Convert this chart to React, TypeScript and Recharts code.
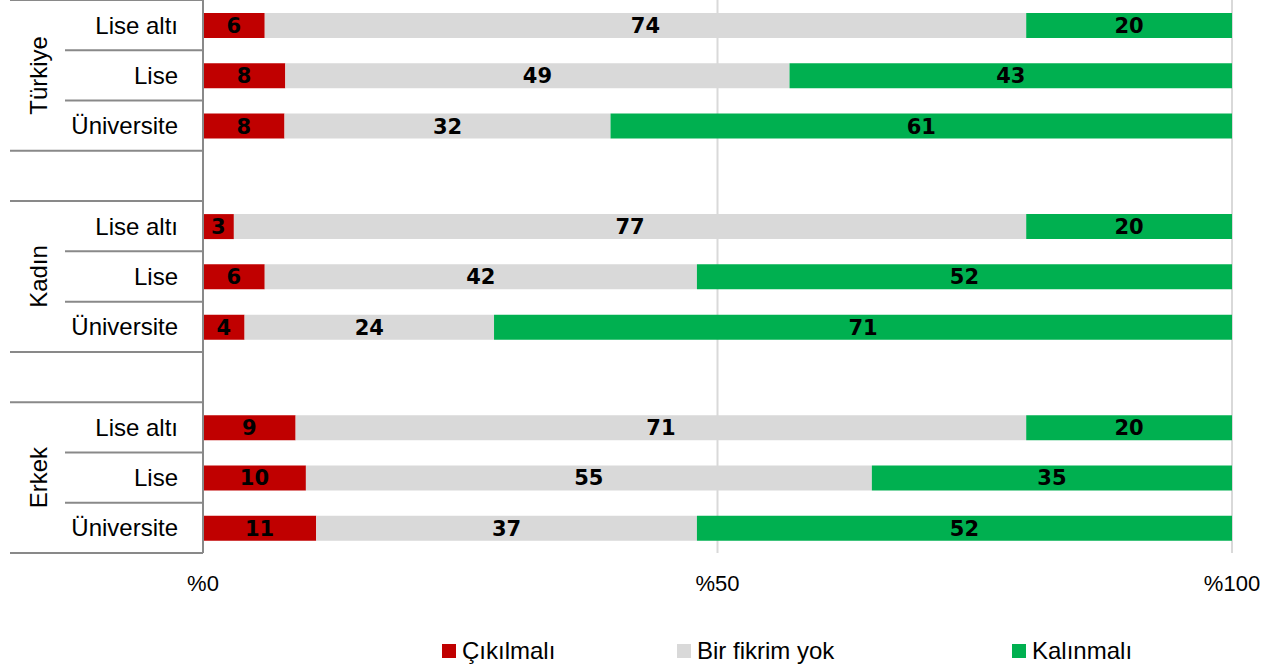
import React from 'react'
import {
  Bar,
  BarChart,
  CartesianGrid,
  LabelList,
  Legend,
  XAxis,
  YAxis,
} from 'recharts'

const rowKeys = ['t-la', 't-l', 't-u', 'gap1', 'k-la', 'k-l', 'k-u', 'gap2', 'e-la', 'e-l', 'e-u']
const rowLabels = ['Lise altı', 'Lise', 'Üniversite', '', 'Lise altı', 'Lise', 'Üniversite', '', 'Lise altı', 'Lise', 'Üniversite']
const groupLabels: Record<number, string> = { 1: 'Türkiye', 5: 'Kadın', 9: 'Erkek' }
// rows whose bottom separator spans both label columns
const fullLineRows = [2, 3, 6, 7, 10]

const cikilmali = [6, 8, 8, null, 3, 6, 4, null, 9, 10, 11]
const fikirYok = [74, 49, 32, null, 77, 42, 24, null, 71, 55, 37]
const kalinmali = [20, 43, 61, null, 20, 52, 71, null, 20, 35, 52]

const xTicks = [0, 0.5, 1]

const series = [
  { key: 'cik', name: 'Çıkılmalı', color: '#C00000' },
  { key: 'yok', name: 'Bir fikrim yok', color: '#D9D9D9' },
  { key: 'kal', name: 'Kalınmalı', color: '#00B050' },
]

const data = rowKeys.map((key, i) => ({
  key,
  cik: cikilmali[i],
  yok: fikirYok[i],
  kal: kalinmali[i],
}))

const WIDTH = 1281
const HEIGHT = 670
const PLOT_H = 553
const BAND = PLOT_H / rowKeys.length
const AXIS_W = 203
const LINE = '#898989'
const FONT = '"Liberation Sans", Arial, sans-serif'

const CategoryTick = (props: any) => {
  const { y, payload } = props
  const i = rowKeys.indexOf(payload.value)
  const full = fullLineRows.includes(i)
  const group = groupLabels[i]
  return (
    <g>
      {i === 0 && (
        <line x1={10} x2={AXIS_W} y1={y - BAND / 2} y2={y - BAND / 2} stroke={LINE} strokeWidth={2} />
      )}
      <line x1={full ? 10 : 65} x2={AXIS_W} y1={y + BAND / 2} y2={y + BAND / 2} stroke={LINE} strokeWidth={2} />
      <text x={178} y={y} textAnchor="end" dominantBaseline="central" fontSize={24} fill="#000" fontFamily={FONT}>
        {rowLabels[i]}
      </text>
      {group && (
        <text
          transform={`translate(38, ${y}) rotate(-90)`}
          textAnchor="middle"
          dominantBaseline="central"
          fontSize={24}
          fill="#000"
          fontFamily={FONT}
        >
          {group}
        </text>
      )}
    </g>
  )
}

const LegendContent = () => (
  <div style={{ display: 'flex', alignItems: 'center', height: 45, paddingTop: 6, boxSizing: 'border-box', paddingLeft: 442, fontFamily: FONT, fontSize: 24, color: '#000' }}>
    {series.map((s, i) => (
      <div key={s.key} style={{ display: 'flex', alignItems: 'center', width: i === 0 ? 235 : i === 1 ? 335 : 'auto' }}>
        <span style={{ width: 14, height: 14, background: s.color, marginRight: 6, display: 'inline-block' }} />
        <span>{s.name}</span>
      </div>
    ))}
  </div>
)

const App = () => {
  return (
    <div style={{ position: 'absolute', left: 0, top: 0, width: WIDTH, height: HEIGHT, background: '#fff' }}>
      <BarChart
        width={WIDTH}
        height={HEIGHT}
        data={data}
        layout="vertical"
        stackOffset="expand"
        margin={{ top: 0, right: 49, bottom: 0, left: 0 }}
      >
        <CartesianGrid horizontal={false} vertical={true} stroke="#D9D9D9" strokeWidth={2} />
        <XAxis
          type="number"
          domain={[0, 1]}
          ticks={xTicks}
          tickFormatter={(v: number) => `%${Math.round(v * 100)}`}
          axisLine={false}
          tickLine={false}
          height={72}
          tickMargin={16}
          tick={{ fill: '#000', fontSize: 22, fontFamily: FONT }}
        />
        <YAxis
          type="category"
          dataKey="key"
          width={AXIS_W}
          axisLine={{ stroke: LINE, strokeWidth: 2 }}
          tickLine={false}
          interval={0}
          tick={<CategoryTick />}
        />
        <Legend verticalAlign="bottom" wrapperStyle={{ left: 0, width: WIDTH, height: 45 }} content={<LegendContent />} />
        {series.map((s) => (
          <Bar key={s.key} dataKey={s.key} name={s.name} stackId="a" fill={s.color} barSize={25} isAnimationActive={false}>
            <LabelList
              dataKey={s.key}
              position="center"
              fill="#000"
              fontSize={21}
              fontWeight="bold"
              fontFamily='"DejaVu Sans", sans-serif'
              formatter={(v: any) => (v == null ? '' : v)}
            />
          </Bar>
        ))}
      </BarChart>
    </div>
  )
}

export default App
